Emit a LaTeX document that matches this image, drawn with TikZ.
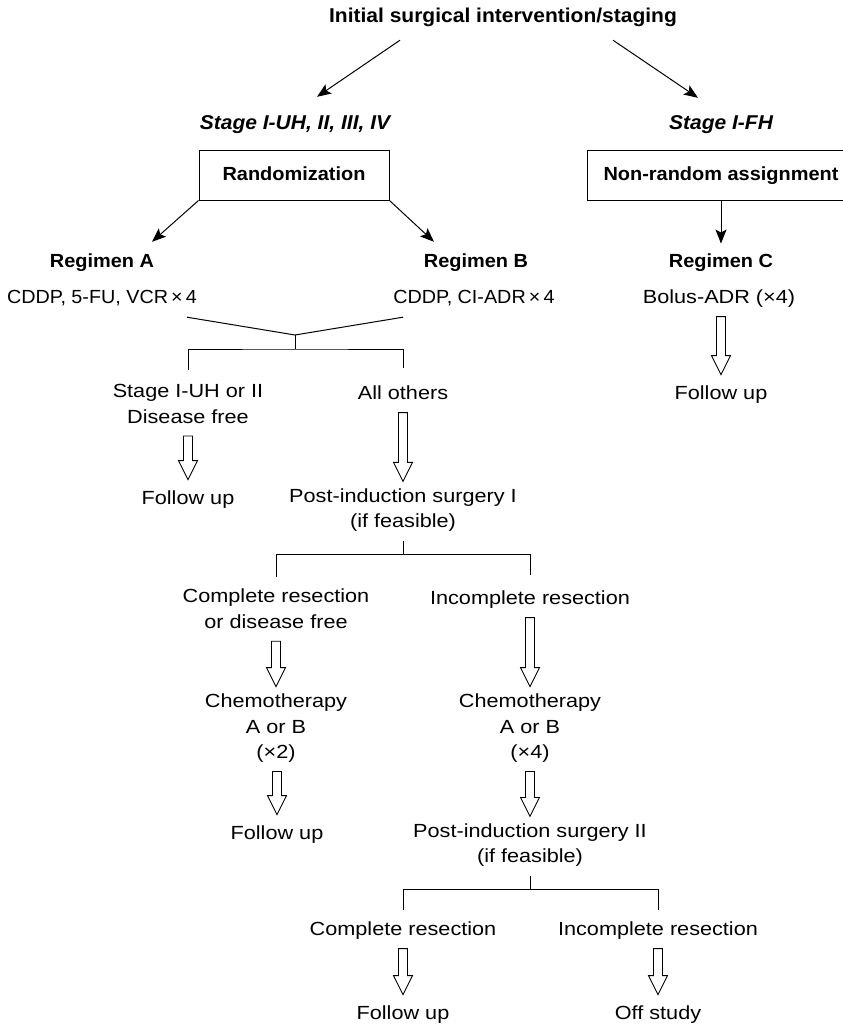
\documentclass[tikz,border=0pt]{standalone}
\usepackage{fontspec}
\setmainfont{Liberation Sans}[FakeStretch=1.14]
\newfontfamily\headfont{Liberation Sans}[FakeStretch=1.05]
\newfontfamily\capsfont{Liberation Sans}[FakeStretch=1.04]
\usetikzlibrary{calc,arrows.meta}
\newcommand{\bodysize}{\fontsize{19}{25.5}\selectfont}
\newcommand{\headsize}{\fontsize{19}{23}\selectfont}

\begin{document}
\begin{tikzpicture}[x=1pt, y=-1pt,
  txt/.style={font=\bodysize, align=center, inner sep=0pt,
    execute at begin node=\strut, execute at end node=\strut},
  captxt/.style={txt, font=\bodysize\capsfont},
  head/.style={font=\headsize\headfont\bfseries, inner sep=0pt, text height=14.5pt, text depth=4pt},
  box/.style={head, draw, line width=1pt, minimum height=50pt},
  arr/.style={line width=1pt, -{Stealth[length=14pt, width=11pt, inset=3pt]}},
  rule/.style={line width=1pt},
  hollow/.style={draw, fill=white, line width=0.9pt, line join=miter,
    to path={($(\tikztostart -| \tikztotarget)+(-4.5,5)$) -- ($(\tikztotarget)+(-4.5,-26)$)
      -- ($(\tikztotarget)+(-9.5,-26)$) -- ($(\tikztotarget)+(0,-7)$) -- ($(\tikztotarget)+(9.5,-26)$)
      -- ($(\tikztotarget)+(4.5,-26)$) -- ($(\tikztostart -| \tikztotarget)+(4.5,5)$) -- cycle}}]
\useasboundingbox (0,0) rectangle (843,1025);
\clip (0,0) rectangle (843,1025);

\node[head, font=\fontsize{20}{24}\selectfont\headfont\bfseries] (title) at (503,17) {Initial surgical intervention/staging};
\node[head, font=\fontsize{20}{24}\selectfont\headfont\bfseries\itshape] (stageL) at (295,124) {Stage I-UH, II, III, IV};
\node[head, font=\fontsize{20}{24}\selectfont\headfont\bfseries\itshape] (stageR) at (721,124) {Stage I-FH};
\node[box, minimum width=190pt] (rand) at (294,175) {Randomization};
\node[box, minimum width=268pt] (nonrand) at (721,175) {Non-random assignment};
\node[head] (regA) at (102,262) {Regimen A};
\node[head] (regB) at (476,262) {Regimen B};
\node[head] (regC) at (721,262) {Regimen C};

\node[captxt] (cddpA) at (102,298.6) {CDDP, 5-FU, VCR\,×\,4};
\node[captxt] (cddpB) at (474,298.6) {CDDP, CI-ADR\,×\,4};
\node[txt] (bolus) at (719,298.6) {Bolus-ADR (×4)};
\node[txt] (dfree) at (188,407.6) {Stage I-UH or II\\Disease free};
\node[txt] (others) at (403,394.6) {All others};
\node[txt] (fuR) at (721,394.6) {Follow up};
\node[txt] (fuL) at (188,499.6) {Follow up};
\node[txt] (postI) at (403,512.1) {Post-induction surgery I\\(if feasible)};
\node[txt] (compl) at (276,612.6) {Complete resection\\or disease free};
\node[txt] (incompl) at (530,599.6) {Incomplete resection};
\node[txt] (chemoL) at (276,730.1) {Chemotherapy\\A or B\\(×2)};
\node[txt] (chemoR) at (530,730.1) {Chemotherapy\\A or B\\(×4)};
\node[txt] (fuL2) at (277,834.6) {Follow up};
\node[txt] (postII) at (530,847.1) {Post-induction surgery II\\(if feasible)};
\node[txt] (compl2) at (403,930.6) {Complete resection};
\node[txt] (incompl2) at (658,930.6) {Incomplete resection};
\node[txt] (fuB) at (403,1014.6) {Follow up};
\node[txt] (off) at (658,1014.6) {Off study};

\draw[arr] ([xshift=-103pt,yshift=-13.75pt]title.south) -- ([xshift=22pt,yshift=17.75pt]stageL.north);
\draw[arr] ([xshift=110pt,yshift=-13.75pt]title.south) -- ([xshift=-23pt,yshift=16.75pt]stageR.north);
\draw[arr] (rand.south west) -- ([xshift=50pt,yshift=10.75pt]regA.north);
\draw[arr] (rand.south east) -- ([xshift=-42pt,yshift=10.75pt]regB.north);
\draw[arr] (nonrand.south) -- ([yshift=9pt]regC.north);

\coordinate (mergeAB) at (295,335);
\draw[rule] ([xshift=85pt,yshift=-5.65pt]cddpA.south) -- (mergeAB) -- ([xshift=-71pt,yshift=-5.65pt]cddpB.south);
\draw[rule] (mergeAB) -- ++(0,14) coordinate (splitAB);
\draw[rule] ([yshift=14pt]dfree.north) |- (splitAB) -| ([yshift=14pt]others.north);

\draw[rule] ([yshift=-5.4pt]postI.south) -- ([yshift=-18.4pt]postI.south);
\draw[rule] ([yshift=12pt]compl.north) |- ([yshift=-18.4pt]postI.south) -| ([yshift=12pt]incompl.north);

\draw[rule] ([yshift=-5.4pt]postII.south) -- ([yshift=-18.4pt]postII.south);
\draw[rule] ([yshift=8pt]compl2.north) |- ([yshift=-18.4pt]postII.south) -| ([yshift=8pt]incompl2.north);

\path[hollow] (dfree.south) to (fuL.north);
\path[hollow] (others.south) to (postI.north);
\path[hollow] (bolus.south) to (fuR.north);
\path[hollow] (compl.south) to (chemoL.north);
\path[hollow] (incompl.south) to (chemoR.north);
\path[hollow] (chemoL.south) to (fuL2.north);
\path[hollow] (chemoR.south) to (postII.north);
\path[hollow] (compl2.south) to (fuB.north);
\path[hollow] (incompl2.south) to (off.north);

\end{tikzpicture}
\end{document}
